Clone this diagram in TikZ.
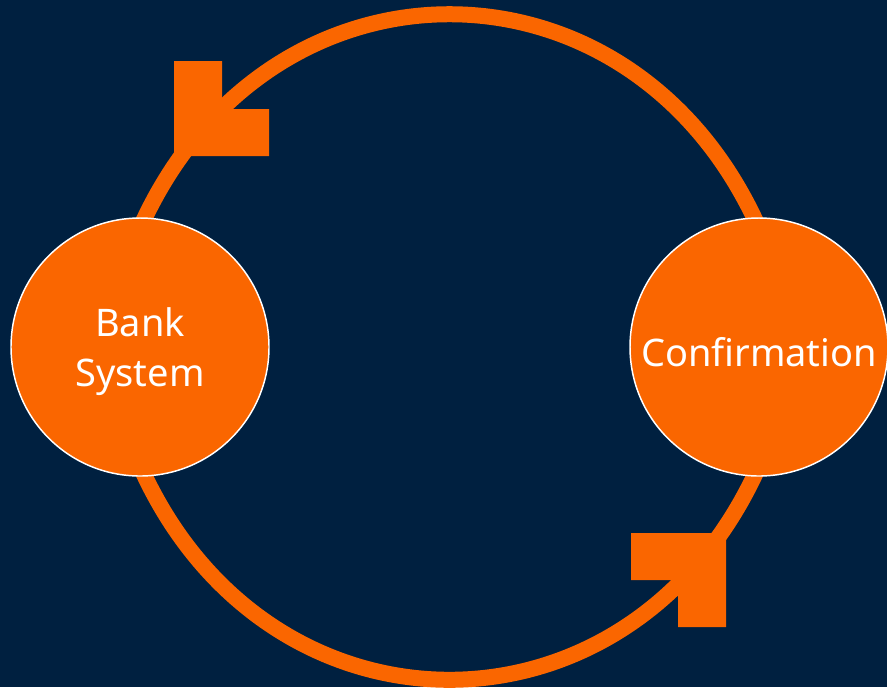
\documentclass[tikz,border=0pt]{standalone}
\usepackage{fontspec}
\setmainfont{Noto Sans}
\usepackage{xcolor}
\usetikzlibrary{backgrounds}
\definecolor{navybg}{RGB}{0, 32, 64}
\definecolor{looporange}{RGB}{250, 102, 0}
\newcommand{\lift}{\rule{0pt}{29pt}}

\begin{document}
\begin{tikzpicture}[
        x=0.75pt, y=0.75pt,
        station/.style={circle, draw=white, line width=1.1pt, fill=looporange, minimum size=193.5pt, inner sep=0pt, text=white, align=center, font=\fontsize{28.5}{37.5}\selectfont},
        loopline/.style={draw=looporange, line width=12pt, looseness=1.265, shorten <=-15pt, shorten >=-15pt},
        loophead/.style={fill=looporange}
    ]
    \useasboundingbox (0,0) rectangle (887,-687);

    % Stations on the loop
    \node[station] (bank) at (140,-347) {\lift Bank\\System};
    \node[station] (confirm) at (759,-347) {\lift Confirmation};

    % Background and loop, behind the stations
    \begin{pgfonlayer}{background}
    \fill[navybg] (0,0) rectangle (887,-687);
    \draw[loopline] (confirm.92) to[out=113, in=67] (bank.88);
    \draw[loopline] (bank.272) to[out=293, in=247] (confirm.268);
    \end{pgfonlayer}

    % Arrow heads
    \fill[loophead] (174,-61) -- (222,-61) -- (222,-109) -- (269,-109) -- (269,-156) -- (174,-156) -- cycle;
    \fill[loophead] (631,-533) -- (726,-533) -- (726,-627) -- (678,-627) -- (678,-580) -- (631,-580) -- cycle;

\end{tikzpicture}
\end{document}
